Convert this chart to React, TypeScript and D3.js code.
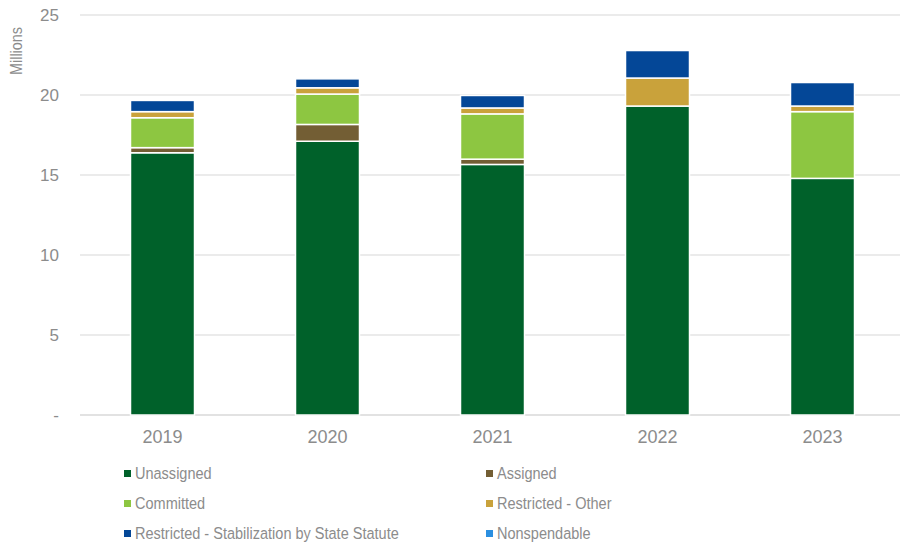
import React from "react";
import * as d3 from "d3";

const years = ["2019", "2020", "2021", "2022", "2023"];
const seriesNames = [
  "Unassigned",
  "Assigned",
  "Committed",
  "Restricted - Other",
  "Restricted - Stabilization by State Statute",
  "Nonspendable",
];
const unassigned = [16.39, 17.11, 15.66, 19.31, 14.79];
const assigned = [0.32, 1.05, 0.33, 0, 0];
const committed = [1.87, 1.9, 2.83, 0, 4.17];
const restrictedOther = [0.38, 0.39, 0.37, 1.75, 0.35];
const stabilization = [0.7, 0.56, 0.78, 1.72, 1.47];
const nonspendable = [0, 0, 0, 0, 0];
const colors = ["#00612A", "#735E34", "#8DC641", "#C9A23B", "#044797", "#2B8FE0"];
const yTicks = [0, 5, 10, 15, 20, 25];

const W = 900;
const H = 543;
const FONT = "'Liberation Sans', Arial, sans-serif";
const TEXT = "#8c8c8c";

export default function App() {
  const seriesData = [unassigned, assigned, committed, restrictedOther, stabilization, nonspendable];
  const rows = years.map((y, i) => {
    const r: any = { year: y };
    seriesNames.forEach((s, j) => (r[s] = seriesData[j][i]));
    return r;
  });
  const stack = d3.stack<any>().keys(seriesNames)(rows);

  const x = d3.scaleBand().domain(years).range([80, 905]).paddingInner(0).paddingOuter(0);
  const y = d3.scaleLinear().domain([0, 25]).range([415, 15]);
  const barW = 64;

  return (
    <svg width={W} height={H} style={{ position: "absolute", left: 0, top: 0, background: "#fff" }}>
      {yTicks.map((t) => (
        <g key={t}>
          <line x1={80} x2={W} y1={y(t)} y2={y(t)} stroke={t === 0 ? "#d9d9d9" : "#e4e4e4"} strokeWidth={1.5} />
          <text x={59} y={y(t)} dy="0.36em" textAnchor="end" fill={TEXT} fontFamily={FONT} fontSize={17}>
            {t === 0 ? "-" : t}
          </text>
        </g>
      ))}
      <text
        transform="translate(22,51) rotate(-90) scale(0.9,1)"
        textAnchor="middle"
        fill={TEXT}
        fontFamily={FONT}
        fontSize={16}
      >
        Millions
      </text>
      {stack.map((s, j) => (
        <g key={s.key} fill={colors[j]}>
          {s.map((d, i) => {
            const h = y(d[0]) - y(d[1]);
            if (h <= 0) return null;
            const cx = (x(years[i]) as number) + x.bandwidth() / 2;
            return (
              <rect
                key={i}
                x={cx - barW / 2}
                y={y(d[1])}
                width={barW}
                height={h}
                stroke="#fff"
                strokeWidth={1.5}
              />
            );
          })}
        </g>
      ))}
      {years.map((yr) => (
        <text
          key={yr}
          x={(x(yr) as number) + x.bandwidth() / 2}
          y={443}
          textAnchor="middle"
          fill={TEXT}
          fontFamily={FONT}
          fontSize={18}
        >
          {yr}
        </text>
      ))}
      {seriesNames.map((s, j) => {
        const col = j % 2;
        const row = Math.floor(j / 2);
        const sx = col === 0 ? 124 : 486;
        const by = 479 + row * 30;
        return (
          <g key={s}>
            <rect x={sx} y={by - 9} width={7} height={7} fill={colors[j]} />
            <text
              transform={`translate(${sx + 11},${by}) scale(0.88,1)`}
              fill={TEXT}
              fontFamily={FONT}
              fontSize={16.5}
            >
              {s}
            </text>
          </g>
        );
      })}
    </svg>
  );
}
